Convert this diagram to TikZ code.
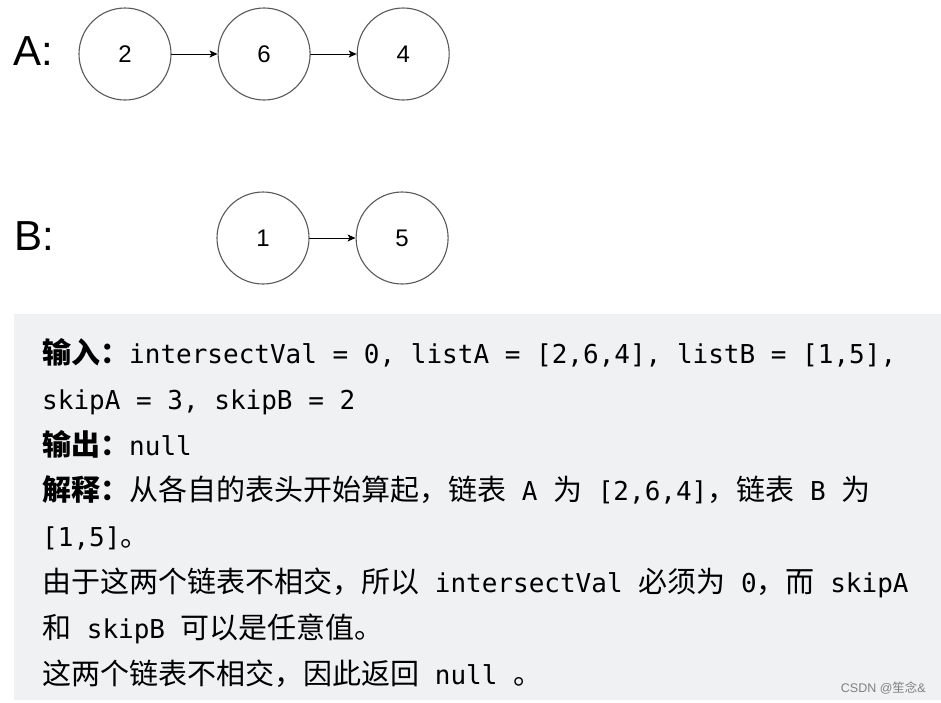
\documentclass[tikz,border=0pt]{standalone}
\usepackage{fontspec}
\setmainfont{Liberation Sans}
\setmonofont{DejaVu Sans Mono}
\newfontfamily\cjk{Noto Sans CJK SC}
\usetikzlibrary{arrows.meta,positioning}
\definecolor{codebg}{HTML}{F0F1F3}
\newcommand\zh[1]{{\fontsize{29}{34}\selectfont\cjk #1}}
\newcommand\zhb[1]{{\fontsize{29}{34}\selectfont\cjk\bfseries #1}}

\begin{document}
\begin{tikzpicture}[x=1pt,y=-1pt,line cap=round,line join=round,>={Stealth[length=8pt,width=7pt,inset=2pt]}]
	\tikzset{listnode/.style={circle,draw=black!65,line width=1.1pt,minimum size=92pt,inner sep=0pt,font=\fontsize{24}{28}\selectfont},
		listname/.style={anchor=base west,inner sep=0pt,font=\fontsize{42}{48}\selectfont},
		codeline/.style={anchor=base west,inner sep=0pt,font=\fontsize{26}{30}\selectfont\ttfamily}}
	\useasboundingbox (0,0) rectangle (941,702);
	% list A and list B
	\node[listname] (nameA) at (13,65) {A:};
	\node[listname] (nameB) at (14,250) {B:};
	\node[listnode] (a1) at (125,54) {2};
	\node[listnode,right=46pt of a1] (a2) {6};
	\node[listnode,right=46pt of a2] (a3) {4};
	\node[listnode] (b1) at (263,238) {1};
	\node[listnode,right=46pt of b1] (b2) {5};
	\draw[->,line width=1pt] (a1)--(a2);
	\draw[->,line width=1pt] (a2)--(a3);
	\draw[->,line width=1pt] (b1)--(b2);
	% explanation box
	\fill[codebg] (14,314) rectangle (941,700);
	\node[codeline] (l1) at (42,363) {\zhb{输入：}intersectVal = 0, listA = [2,6,4], listB = [1,5],};
	\node[codeline] (l2) at (42,409) {skipA = 3, skipB = 2};
	\node[codeline] (l3) at (42,455) {\zhb{输出：}null};
	\node[codeline] (l4) at (42,500) {\zhb{解释：}\zh{从各自的表头开始算起，链表} A \zh{为} [2,6,4]\zh{，链表} B \zh{为}};
	\node[codeline] (l5) at (42,546) {[1,5]\zh{。}};
	\node[codeline] (l6) at (42,592) {\zh{由于这两个链表不相交，所以} intersectVal \zh{必须为} 0\zh{，而} skipA};
	\node[codeline] (l7) at (42,638) {\zh{和} skipB \zh{可以是任意值。}};
	\node[codeline] (l8) at (42,684) {\zh{这两个链表不相交，因此返回} null \zh{。}};
	\node[anchor=base east,inner sep=0pt,text=black!50,font=\fontsize{12.5}{14}\selectfont] (mark) at (926,692) {CSDN @{\cjk 笙念}\&};
\end{tikzpicture}
\end{document}
